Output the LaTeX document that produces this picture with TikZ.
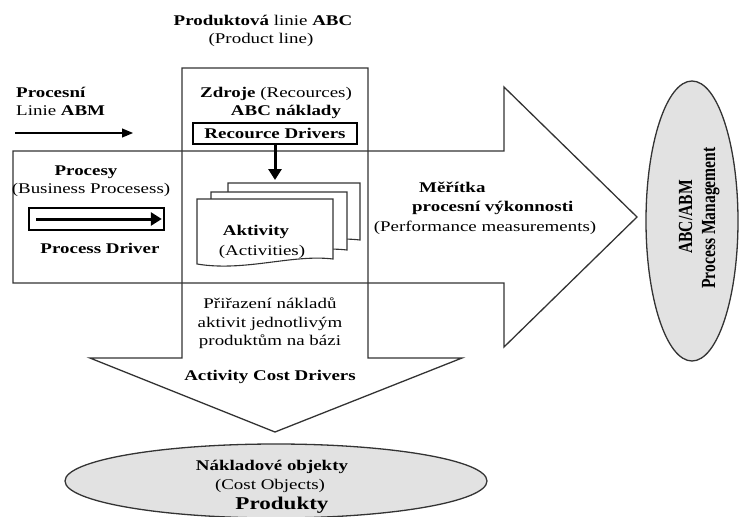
\documentclass[tikz,border=0pt]{standalone}
\usepackage{fontspec}
\setmainfont[FakeStretch=1.28]{Liberation Serif}
\newfontfamily\narrowserif[FakeStretch=0.78]{Liberation Serif}
\usetikzlibrary{arrows.meta,shapes.geometric}
\definecolor{linegrey}{HTML}{333333}
\definecolor{ovalgrey}{HTML}{E2E2E2}
\newcommand{\labelfont}{\fontsize{14.8}{17.8}\selectfont}
\newcommand{\prodfont}{\fontsize{18}{21}\selectfont\bfseries}
\newcommand{\rotfont}{\fontsize{20}{24}\selectfont\narrowserif\bfseries}
\newcommand{\actsheet}[4]{%
  \pgfmathsetmacro{\sheetw}{#3-#1}%
  \filldraw[fill=white,draw=linegrey,line width=1.1pt]
    (#1,#2) -- (#3,#2) -- (#3,#4)
    .. controls ({#3-0.3*\sheetw},#4-5) and ({#1+0.35*\sheetw},#4+13) .. (#1,#4+5)
    -- cycle;
}

\begin{document}
\begin{tikzpicture}[x=1pt,y=-1pt,
    outline/.style={draw=linegrey,line width=1.3pt,line join=miter},
    txt/.style={anchor=base,inner sep=0pt},
    txtw/.style={anchor=base west,inner sep=0pt},
    thinarrow/.style={draw=black,line width=1.2pt,-{Triangle[length=11pt,width=9pt]}},
    thickarrow/.style={draw=black,line width=3pt,-{Triangle[length=11pt,width=13pt]}},
    oval/.style={ellipse,fill=ovalgrey,draw=linegrey,line width=1.3pt,inner sep=0pt}]
  \useasboundingbox (0,0) rectangle (740,517);

  % Block arrows (process line and product line).
  \draw[outline] (13,151) -- (504,151) -- (504,87) -- (637,217)
    -- (504,347) -- (504,283) -- (13,283) -- cycle;
  \draw[outline] (182,68) -- (368,68) -- (368,358) -- (462,358)
    -- (275,432) -- (90,358) -- (182,358) -- cycle;

  % Titles.
  \node[txt] (prodline) at (263,25) {\labelfont\textbf{Produktová} linie \textbf{ABC}};
  \node[txt] (prodsub) at (261,43) {\labelfont (Product line)};
  \node[txtw] (procesni) at (16,97) {\labelfont\bfseries Procesní};
  \node[txtw] (linieabm) at (16,115) {\labelfont Linie \textbf{ABM}};
  \coordinate (abmstart) at (15,133);
  \coordinate (abmend) at (133,133);
  \draw[thinarrow] (abmstart) -- (abmend);

  % Resources.
  \node[txt] (zdroje) at (276,97) {\labelfont\textbf{Zdroje} (Recources)};
  \node[txt] (abcnakl) at (286,115) {\labelfont\bfseries ABC náklady};
  \node[draw=black,line width=2.8pt,minimum width=164pt,minimum height=21pt,
    inner sep=0pt] (rdrv) at (275,133.5) {\labelfont\bfseries Recource Drivers};

  % Activities.
  \actsheet{228}{183}{360}{240}
  \actsheet{211}{192}{347}{250}
  \actsheet{197}{199}{333}{259}
  \coordinate (acttop) at (275,180);
  \draw[thickarrow] (rdrv) -- (acttop);
  \node[txt] (aktiv) at (256,235) {\labelfont\bfseries Aktivity};
  \node[txt] (activ) at (262,255) {\labelfont (Activities)};

  % Processes.
  \node[txt] (procesy) at (86,175) {\labelfont\bfseries Procesy};
  \node[txt] (busproc) at (91,193) {\labelfont (Business Procesess)};
  \node[draw=black,line width=1.6pt,minimum width=135pt,minimum height=22pt,
    inner sep=0pt] (pdbox) at (96.5,219) {};
  \draw[thickarrow] ([xshift=8pt]pdbox.west) -- ([xshift=-3pt]pdbox.east);
  \node[txt] (pdriver) at (100,253) {\labelfont\bfseries Process Driver};

  % Performance measurements.
  \node[txtw] (meritka) at (419,192) {\labelfont\bfseries Měřítka};
  \node[txtw] (vykon) at (412,211) {\labelfont\bfseries procesní výkonnosti};
  \node[txt] (perfm) at (485,231) {\labelfont (Performance measurements)};

  \node[oval,minimum width=92pt,minimum height=280pt] (mgmt) at (692,221) {};
  \node[txt,rotate=90] (abcabm) at (692,217) {\rotfont ABC/ABM};
  \node[txt,rotate=90] (procmgmt) at (715,218) {\rotfont Process Management};

  % Cost assignment.
  \node[txt] (prir1) at (270,308) {\labelfont Přiřazení nákladů};
  \node[txt] (prir2) at (270,327) {\labelfont aktivit jednotlivým};
  \node[txt] (prir3) at (270,345) {\labelfont produktům na bázi};
  \node[txt] (acd) at (270,380) {\labelfont\bfseries Activity Cost Drivers};

  \node[oval,minimum width=422pt,minimum height=74pt] (costobj) at (276,481) {};
  \node[txt] (nakl) at (272,470) {\labelfont\bfseries Nákladové objekty};
  \node[txt] (costsub) at (270,489) {\labelfont (Cost Objects)};
  \node[txt] (produkty) at (282,509) {\prodfont Produkty};
\end{tikzpicture}
\end{document}
